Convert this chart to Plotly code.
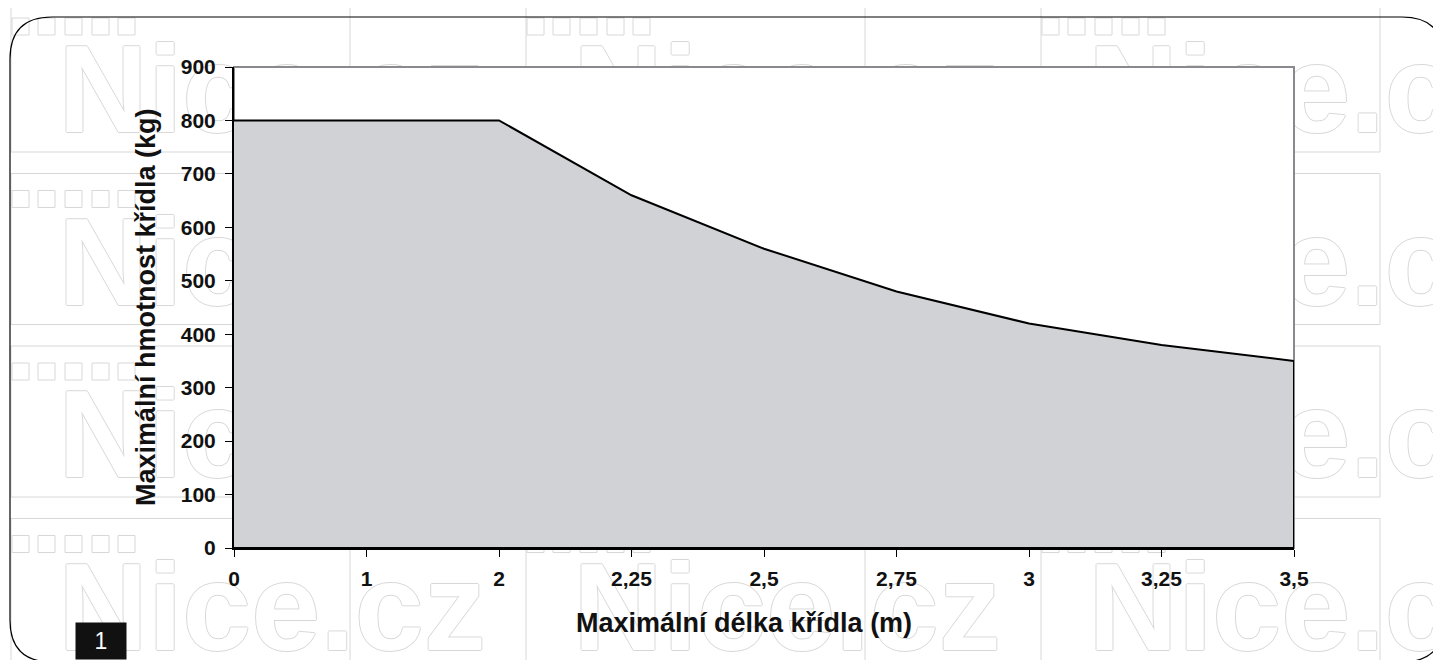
import plotly.graph_objects as go

# ---- data ----
categories = ["0", "1", "2", "2,25", "2,5", "2,75", "3", "3,25", "3,5"]
max_weight_kg = [800, 800, 800, 660, 560, 480, 420, 380, 350]
x_title = "Maximální délka křídla (m)"
y_title = "Maximální hmotnost křídla (kg)"
watermark_text = "Nice.cz"
figure_number = "1"

# ---- layout geometry (page pixels; page body has an 8px margin) ----
OFF = 8
FIG_W, FIG_H = 1441 - OFF, 660 - OFF
PL, PR, PT, PB = 234, 1294, 67, 548          # plot area in page pixels
L, T = PL - OFF, PT - OFF
R, B = FIG_W - (PR - OFF), FIG_H - (PB - OFF)
PW, PH = PR - PL, PB - PT


def px(x):
    return (x - PL) / PW


def py(y):
    return (PB - y) / PH


idx = list(range(len(categories)))
poly_x = idx + [idx[-1], idx[0]]
poly_y = max_weight_kg + [0, 0]

fig = go.Figure()
fig.add_trace(go.Scatter(
    x=poly_x, y=poly_y, mode="lines", fill="toself",
    fillcolor="#d1d2d6", line=dict(color="black", width=2),
    hoverinfo="skip", showlegend=False,
))

WM = "#d8d8d8"
shapes = []
# watermark tiles
for r in range(4):
    for c in range(3):
        nl = 66 + 515 * c
        nt = 43 + 172.5 * r
        shapes.append(dict(type="rect", xref="paper", yref="paper", layer="below",
                           x0=px(nl - 55), x1=px(nl + 284), y0=py(nt - 42), y1=py(nt + 109),
                           line=dict(color=WM, width=1), fillcolor="rgba(0,0,0,0)"))
        for off in [-54, -28, -1, 26, 52]:
            shapes.append(dict(type="rect", xref="paper", yref="paper", layer="below",
                               x0=px(nl + off), x1=px(nl + off + 17), y0=py(nt - 25), y1=py(nt - 8),
                               line=dict(color=WM, width=1), fillcolor="white"))
        shapes.append(dict(type="rect", xref="paper", yref="paper", layer="below",
                           x0=px(nl - 8), x1=px(nl + 420), y0=py(nt - 12), y1=py(nt + 80),
                           line=dict(width=0), fillcolor="rgba(0,0,0,0)",
                           label=dict(text=watermark_text, textposition="middle center",
                                      font=dict(family="Liberation Sans", size=124, weight="bold",
                                                color="white",
                                                shadow="1px 0 0 %s, -1px 0 0 %s, 0 1px 0 %s, 0 -1px 0 %s" % (WM, WM, WM, WM)))))
# plot area mask + gray frame
shapes.append(dict(type="rect", xref="x domain", yref="y domain", layer="below",
                   x0=0, x1=1, y0=0, y1=1, line=dict(color="#8a8a8e", width=2), fillcolor="white"))
# rounded outer border
x0, x1, y0, y1, rr = 10, 1444, 17, 662, 42
path = (f"M {px(x0+rr)},{py(y0)} L {px(x1-rr)},{py(y0)} "
        f"Q {px(x1)},{py(y0)} {px(x1)},{py(y0+rr)} L {px(x1)},{py(y1-rr)} "
        f"Q {px(x1)},{py(y1)} {px(x1-rr)},{py(y1)} L {px(x0+rr)},{py(y1)} "
        f"Q {px(x0)},{py(y1)} {px(x0)},{py(y1-rr)} L {px(x0)},{py(y0+rr)} "
        f"Q {px(x0)},{py(y0)} {px(x0+rr)},{py(y0)} Z")
shapes.append(dict(type="path", xref="paper", yref="paper", layer="below", path=path,
                   line=dict(color="black", width=1.2), fillcolor="rgba(0,0,0,0)"))

tickfont = dict(family="Liberation Sans", size=21, color="#111111", weight="bold")
titlefont = dict(family="Liberation Sans", size=27, color="#111111", weight="bold")

fig.update_layout(
    width=FIG_W, height=FIG_H,
    margin=dict(l=L, r=R, t=T, b=B, pad=0),
    paper_bgcolor="white", plot_bgcolor="white",
    shapes=shapes,
    xaxis=dict(range=[0, len(categories) - 1], tickmode="array", tickvals=idx, ticktext=categories,
               ticks="outside", ticklen=7, tickwidth=1, tickcolor="black",
               showline=True, linecolor="black", linewidth=2, showgrid=False, zeroline=False,
               tickfont=tickfont, ticklabelstandoff=4),
    yaxis=dict(range=[0, 900], dtick=100, ticks="outside", ticklen=7, tickwidth=1, tickcolor="black",
               showline=True, linecolor="black", linewidth=2, showgrid=False, zeroline=False,
               tickfont=tickfont, ticklabelstandoff=5),
    annotations=[
        dict(text=x_title, xref="paper", yref="paper", x=px(744), y=py(623),
             xanchor="center", yanchor="middle", showarrow=False, font=titlefont),
        dict(text=y_title, xref="paper", yref="paper", x=px(146), y=py(307),
             xanchor="center", yanchor="middle", textangle=-90, showarrow=False, font=titlefont),
        dict(text=figure_number, xref="paper", yref="paper", x=px(75), y=py(660),
             xanchor="left", yanchor="bottom", showarrow=False, bgcolor="#111111",
             width=50, height=36, align="center", borderpad=0,
             font=dict(family="Liberation Sans", size=23, color="white")),
    ],
)

fig.write_html("out.html")
